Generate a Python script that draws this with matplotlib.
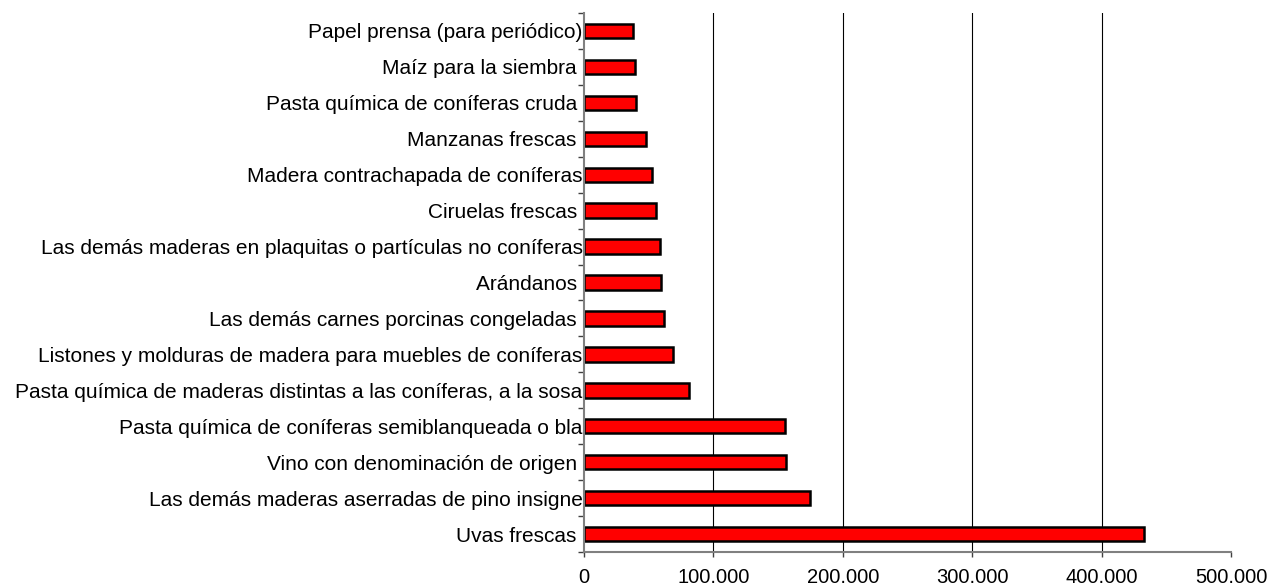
import matplotlib
matplotlib.use("Agg")
import matplotlib.pyplot as plt
from matplotlib.ticker import FuncFormatter, FixedLocator
import numpy as np

plt.rcParams['font.family'] = ['Liberation Sans', 'DejaVu Sans']

categories = [
    "Uvas frescas ",
    "Las demás maderas aserradas de pino insigne",
    "Vino con denominación de origen ",
    "Pasta química de coníferas semiblanqueada o bla",
    "Pasta química de maderas distintas a las coníferas, a la sosa",
    "Listones y molduras de madera para muebles de coníferas",
    "Las demás carnes porcinas congeladas ",
    "Arándanos ",
    "Las demás maderas en plaquitas o partículas no coníferas",
    "Ciruelas frescas ",
    "Madera contrachapada de coníferas",
    "Manzanas frescas ",
    "Pasta química de coníferas cruda ",
    "Maíz para la siembra ",
    "Papel prensa (para periódico)",
]
values = [432500, 175000, 156000, 155000, 81500, 69000, 62000, 59600, 58600,
          55500, 52200, 48000, 40400, 39400, 37900]
xticks = [0, 100000, 200000, 300000, 400000, 500000]

fig = plt.figure(figsize=(12.67, 5.87), dpi=100)
ax = fig.add_axes([0.4609, 0.0596, 0.5107, 0.9182])

y = np.arange(len(categories))
ax.barh(y, values, height=0.4, color='#FF0000', edgecolor='black', linewidth=1.8, zorder=3)

ax.set_xlim(0, 500000)
ax.set_ylim(-0.5, len(categories) - 0.5)

ax.set_yticks(y)
ax.set_yticklabels(categories, fontsize=15)
ax.tick_params(axis='y', which='major', length=0, pad=1)
ax.yaxis.set_minor_locator(FixedLocator(np.arange(-0.5, len(categories), 1.0)))
ax.tick_params(axis='y', which='minor', length=4.5, color='#404040', width=1)

ax.set_xticks(xticks)
ax.xaxis.set_major_formatter(FuncFormatter(lambda v, p: f"{int(v):,}".replace(",", ".")))
ax.tick_params(axis='x', length=3.6, color='#404040', width=1, labelsize=14.5, pad=8)

for v in xticks[1:-1]:
    ax.axvline(v, color='black', linewidth=0.8, zorder=1)

for s in ['top', 'right']:
    ax.spines[s].set_visible(False)
for s in ['left', 'bottom']:
    ax.spines[s].set_color('#808080')
    ax.spines[s].set_linewidth(1.5)
    ax.spines[s].set_zorder(4)

fig.savefig('out.png', dpi=100)
